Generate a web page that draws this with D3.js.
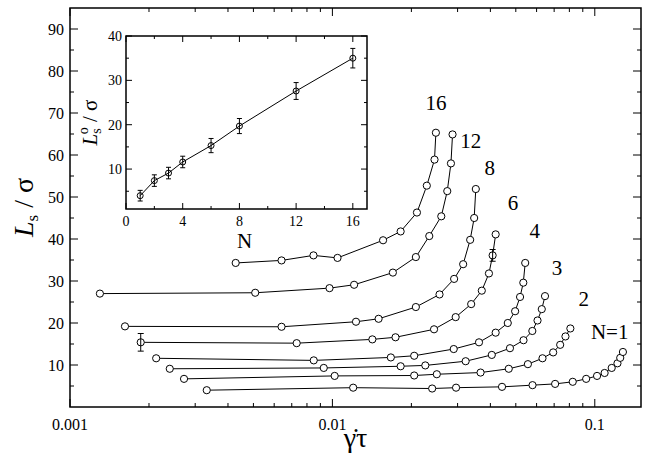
<!DOCTYPE html>
<html><head><meta charset="utf-8">
<script src="https://cdn.jsdelivr.net/npm/d3@7"></script>
<style>body{margin:0;background:#fff} svg text{font-family:"Liberation Serif",serif}</style>
</head><body><svg id="c" width="649" height="458"></svg>
<script>
// main curves: shear rate vs Ls/sigma for each chain length N
var chainN = [1, 2, 3, 4, 6, 8, 12, 16];
var rateX = [
  [0.00332,0.0120,0.0240,0.0296,0.0443,0.0579,0.0706,0.0824,0.0927,0.102,0.109,0.116,0.122,0.125,0.128],
  [0.00272,0.0102,0.0205,0.0250,0.0367,0.0470,0.0556,0.0632,0.0694,0.0738,0.0773,0.0807],
  [0.0024,0.00927,0.0182,0.0226,0.0322,0.0405,0.0475,0.0535,0.0578,0.0605,0.0628,0.0646],
  [0.00213,0.00849,0.0167,0.0205,0.0290,0.0362,0.0419,0.0466,0.0497,0.0519,0.0534,0.0543],
  [0.00186,0.00731,0.0142,0.0174,0.0244,0.0295,0.0338,0.0371,0.0395,0.0408,0.0419],
  [0.00162,0.0064,0.0123,0.0150,0.0208,0.0256,0.0291,0.0315,0.0335,0.0347,0.0352],
  [0.0013,0.00508,0.00975,0.0121,0.0170,0.0208,0.0234,0.0260,0.0274,0.0283,0.0287],
  [0.00428,0.0064,0.00847,0.01046,0.0156,0.0182,0.0210,0.0229,0.0245,0.0248]
];
var lsY = [
  [4.0,4.6,4.4,4.6,4.8,5.2,5.5,6.0,6.7,7.4,8.1,9.3,10.4,11.7,13.1],
  [6.7,7.4,7.5,7.8,8.2,9.1,10.2,11.6,13.0,14.8,16.8,18.7],
  [9.1,9.3,9.7,9.9,10.9,12.4,14.0,15.9,18.1,20.6,23.3,26.4],
  [11.6,11.1,11.8,12.2,13.8,15.4,17.7,20.0,22.8,26.2,29.6,34.3],
  [15.4,15.2,16.1,16.6,18.5,21.4,24.5,27.7,31.8,36.1,41.1],
  [19.2,19.1,20.3,21.0,23.8,26.8,30.5,34.0,39.8,45.0,51.9],
  [27.0,27.2,28.3,29.1,32.0,35.7,40.7,45.4,51.4,58.0,64.9],
  [34.3,34.9,36.1,35.5,39.7,41.8,46.3,52.7,58.9,65.3]
];
// error bars in main plot: [series index, point index, half width]
var mainErr = [[4, 0, 2.1], [4, 9, 1.4]];
var labelText = ["N=1","2","3","4","6","8","12","16"];
var labelX = [0.114,0.0907,0.0717,0.0591,0.0488,0.0398,0.0337,0.0248];
var labelY = [17.8,25.7,33.2,42.0,48.5,57.0,63.4,72.4];

// inset: zero-shear Ls vs N
var insetN = [1, 2, 3, 4, 6, 8, 12, 16];
var insetL = [4.0, 7.4, 9.1, 11.6, 15.3, 19.7, 27.6, 35.0];
var insetErr = [1.2, 1.3, 1.3, 1.3, 1.6, 1.7, 1.9, 2.2];

var svg = d3.select("#c");
var L = 70, R = 641, T = 8, B = 407;
var x = d3.scaleLog().domain([0.001, 0.15]).range([L, R]);
var y = d3.scaleLinear().domain([0, 95]).range([B, T]);

function frame(g, l, r, t, b) {
  g.append("rect").attr("x", l).attr("y", t).attr("width", r - l).attr("height", b - t)
    .attr("fill", "none").attr("stroke", "#000").attr("stroke-width", 1.5);
}
function vt(g, px, t, b, len) {
  g.append("line").attr("x1", px).attr("x2", px).attr("y1", b).attr("y2", b - len).attr("stroke", "#000");
  g.append("line").attr("x1", px).attr("x2", px).attr("y1", t).attr("y2", t + len).attr("stroke", "#000");
}
function ht(g, py, l, r, len) {
  g.append("line").attr("y1", py).attr("y2", py).attr("x1", l).attr("x2", l + len).attr("stroke", "#000");
  g.append("line").attr("y1", py).attr("y2", py).attr("x1", r).attr("x2", r - len).attr("stroke", "#000");
}

var g = svg.append("g");
frame(g, L, R, T, B);
[0.001, 0.01, 0.1].forEach(function (d) {
  vt(g, x(d), T, B, 8);
  g.append("text").attr("x", x(d)).attr("y", B + 23).attr("text-anchor", "middle")
    .attr("font-size", 16).text(d);
  for (var k = 2; k <= 9; k++) if (d * k < 0.15) vt(g, x(d * k), T, B, 4);
});
d3.range(5, 95, 5).forEach(function (v) {
  var major = v % 10 == 0;
  ht(g, y(v), L, R, major ? 8 : 4);
  if (major) g.append("text").attr("x", L - 6).attr("y", y(v) + 6).attr("text-anchor", "end")
    .attr("font-size", 16).text(v);
});
var yt = g.append("text").attr("transform", "translate(33," + ((T + B) / 2) + ") rotate(-90)")
  .attr("text-anchor", "middle").attr("font-size", 28);
yt.append("tspan").attr("font-style", "italic").text("L");
yt.append("tspan").attr("font-size", 17).attr("dy", 5).text("s");
yt.append("tspan").attr("dy", -5).text(" / σ");
g.append("text").attr("x", (L + R) / 2).attr("y", 447).attr("text-anchor", "middle")
  .attr("font-size", 28).text("γ\u0307τ");

var line = d3.line().x(function (d) { return x(d[0]); }).y(function (d) { return y(d[1]); });
chainN.forEach(function (n, i) {
  var pts = rateX[i].map(function (v, j) { return [v, lsY[i][j]]; });
  g.append("path").attr("d", line(pts)).attr("fill", "none").attr("stroke", "#000").attr("stroke-width", 1);
  g.selectAll(null).data(pts).enter().append("circle")
    .attr("cx", function (d) { return x(d[0]); }).attr("cy", function (d) { return y(d[1]); })
    .attr("r", 3.6).attr("fill", "#fff").attr("stroke", "#000").attr("stroke-width", 1);
  g.append("text").attr("x", x(labelX[i])).attr("y", y(labelY[i]) + 7).attr("text-anchor", "middle")
    .attr("font-size", 21).text(labelText[i]);
});
mainErr.forEach(function (e) {
  var cx = x(rateX[e[0]][e[1]]), v = lsY[e[0]][e[1]];
  g.append("line").attr("x1", cx).attr("x2", cx).attr("y1", y(v - e[2])).attr("y2", y(v + e[2])).attr("stroke", "#000");
  [v - e[2], v + e[2]].forEach(function (w) {
    g.append("line").attr("x1", cx - 3).attr("x2", cx + 3).attr("y1", y(w)).attr("y2", y(w)).attr("stroke", "#000");
  });
});

// inset
var iL = 126, iR = 367, iT = 36, iB = 209;
var ix = d3.scaleLinear().domain([0, 17]).range([iL, iR]);
var iy = d3.scaleLinear().domain([1, 40]).range([iB, iT]);
var h = svg.append("g");
h.append("rect").attr("x", iL).attr("y", iT).attr("width", iR - iL).attr("height", iB - iT).attr("fill", "#fff");
frame(h, iL, iR, iT, iB);
d3.range(0, 17, 2).forEach(function (v) {
  var major = v % 4 == 0;
  vt(h, ix(v), iT, iB, major ? 6 : 3);
  if (major) h.append("text").attr("x", ix(v)).attr("y", iB + 17).attr("text-anchor", "middle")
    .attr("font-size", 14).text(v);
});
d3.range(5, 41, 5).forEach(function (v) {
  var major = v % 10 == 0;
  ht(h, iy(v), iL, iR, major ? 6 : 3);
  if (major) h.append("text").attr("x", iL - 4).attr("y", iy(v) + 5).attr("text-anchor", "end")
    .attr("font-size", 14).text(v);
});
h.append("text").attr("x", ix(8.5) - 2).attr("y", iB + 39).attr("text-anchor", "middle")
  .attr("font-size", 21).text("N");
var it = h.append("text").attr("transform", "translate(97," + ((iT + iB) / 2) + ") rotate(-90)")
  .attr("text-anchor", "middle").attr("font-size", 21);
it.append("tspan").attr("font-style", "italic").text("L");
it.append("tspan").attr("font-size", 14).attr("dy", 4).text("s");
it.append("tspan").attr("font-size", 14).attr("dy", -13).attr("dx", -6).text("o");
it.append("tspan").attr("dy", 9).text(" / σ");
var ipts = insetN.map(function (n, i) { return [n, insetL[i], insetErr[i]]; });
h.append("path").attr("d", d3.line().x(function (d) { return ix(d[0]); }).y(function (d) { return iy(d[1]); })(ipts))
  .attr("fill", "none").attr("stroke", "#000");
ipts.forEach(function (d) {
  var cx = ix(d[0]);
  h.append("line").attr("x1", cx).attr("x2", cx).attr("y1", iy(d[1] - d[2])).attr("y2", iy(d[1] + d[2])).attr("stroke", "#000");
  [d[1] - d[2], d[1] + d[2]].forEach(function (w) {
    h.append("line").attr("x1", cx - 2.5).attr("x2", cx + 2.5).attr("y1", iy(w)).attr("y2", iy(w)).attr("stroke", "#000");
  });
  h.append("circle").attr("cx", cx).attr("cy", iy(d[1])).attr("r", 3)
    .attr("fill", "none").attr("stroke", "#000");
});
</script></body></html>
